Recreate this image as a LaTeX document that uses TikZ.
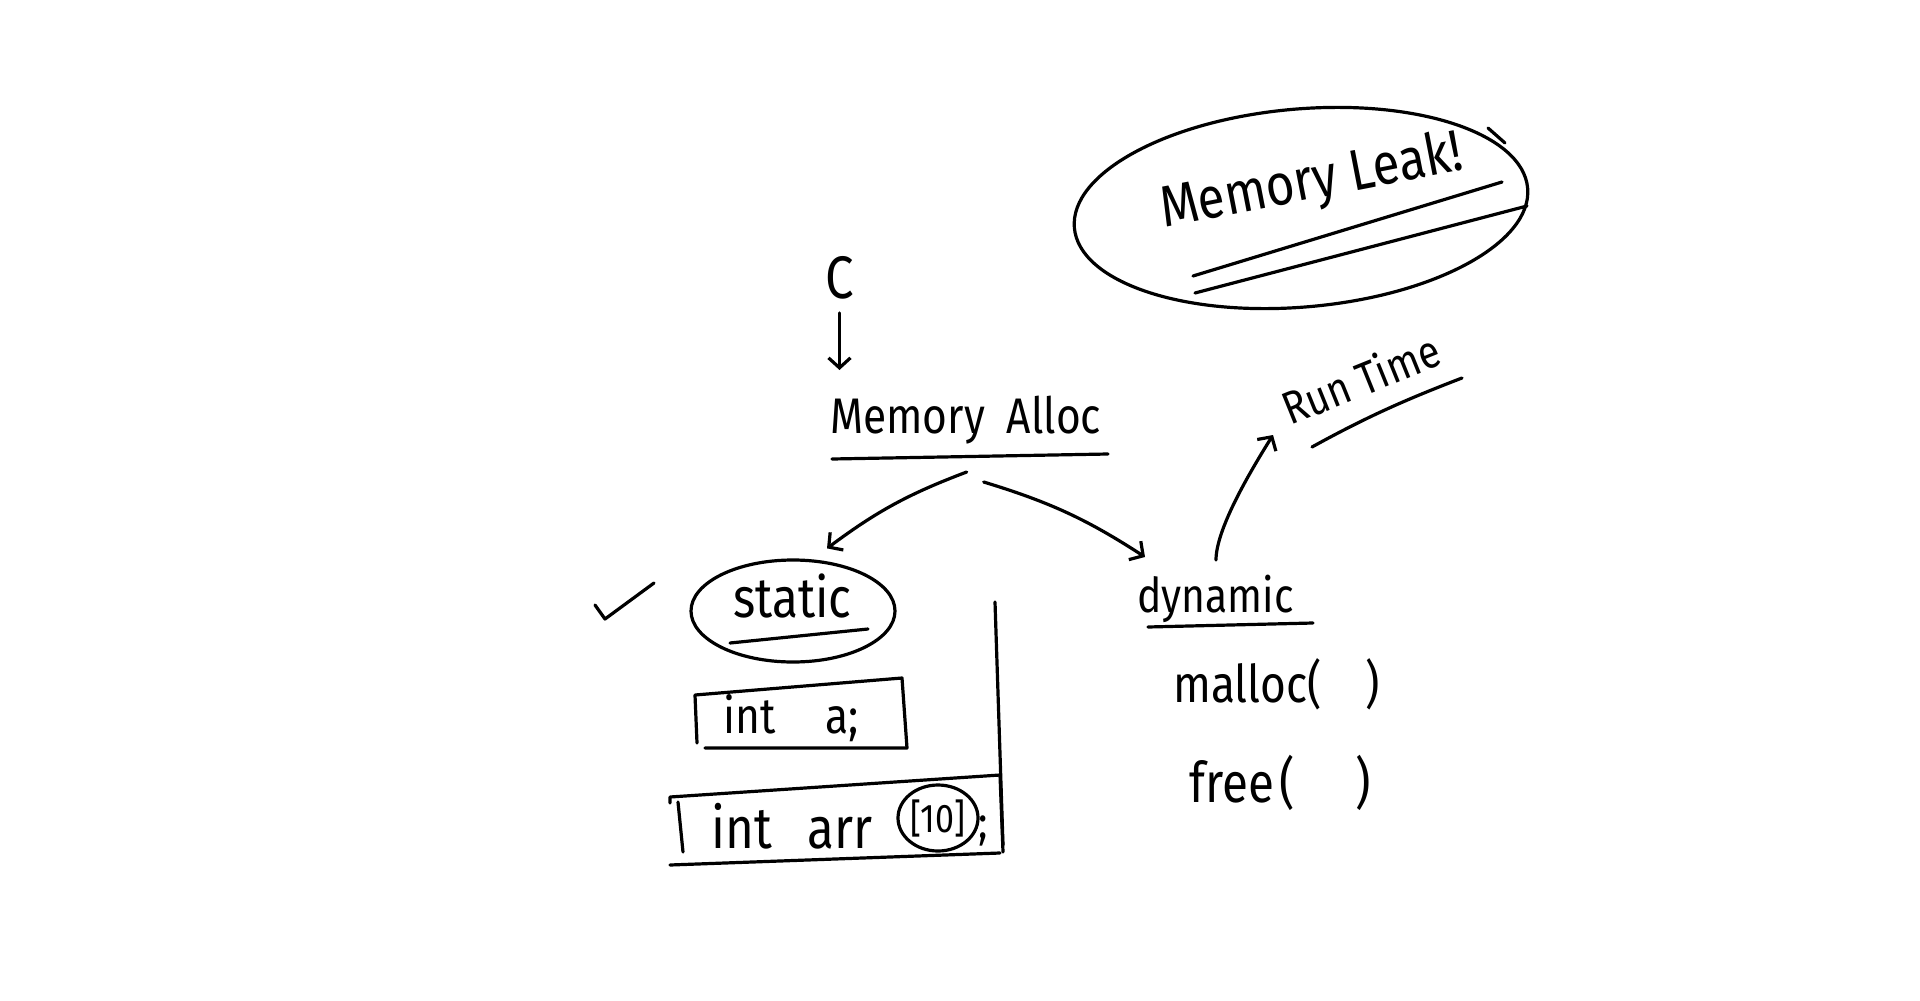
\documentclass[tikz,border=0pt]{standalone}
\usepackage{fontspec}
\setmainfont{Fira Sans}[FakeStretch=0.85]
\usetikzlibrary{arrows.meta,shapes.geometric,calc}
\begin{document}
\begin{tikzpicture}[x=1pt,y=-1pt,
  pen/.style={line width=3.2pt,line cap=round,line join=round},
  hand/.style={inner sep=0pt,anchor=base west,font=\fontsize{#1}{#1}\selectfont},
  barb/.style={pen,-{Straight Barb[length=10pt,width=22pt,line width=3.2pt]}},
  ring/.style={pen,draw,ellipse,inner sep=0pt}]
\useasboundingbox[fill=white] (0,0) rectangle (1920,1001);

% top of the tree
\node[hand=60] (C) at (825,298) {C};
\node[hand=50] (memalloc) at (830,433) {Memory\hspace{22pt}Alloc};
\draw[pen] (832,459) -- (1108,454);

% static branch
\node[ring,minimum width=204pt,minimum height=102pt] (staticring) at (793,611) {};
\node[hand=56] (static) at (733,617) {static};
\draw[pen] (730,643) -- (868,629);
\draw[pen] (595,605) -- (605,619) -- (654,583);

\node[hand=50] (inta) at (723,733) {int\hspace{50pt}a;};
\draw[pen] (697,743) -- (695,695) -- (902,678) -- (907,748) -- (705,748);

\node[hand=58] (arrtxt) at (711,848) {int\hspace{36pt}arr};
\node[ring,minimum width=80pt,minimum height=66pt,font=\fontsize{40}{40}\selectfont] (ten) at (938,818) {[10]};
\node[hand=46] (semi) at (978,838) {;};
\draw[pen] (670,803) -- (670,797) -- (1000,775) -- (1003,852);
\draw[pen] (678,802) -- (683,852);
\draw[pen] (670,865) -- (1000,853);
\draw[pen] (995,602) -- (1003,845);

% dynamic branch
\node[hand=48] (dynamic) at (1137,612) {dynamic};
\draw[pen] (1148,627) -- (1313,623);
\node[hand=52] (malloc) at (1173,702) {malloc(\hspace{44pt})};
\node[hand=56] (free) at (1189,802) {free\hspace{6pt}(\hspace{60pt})};

\node[hand=46,rotate=22] (runtime) at (1290,426) {Run Time};
\draw[pen] (1312,447) .. controls (1370,415) and (1410,398) .. (1462,378);

% note bubble
\node[ring,minimum width=455pt,minimum height=198pt,rotate=5] (leak) at (1301,208) {};
\node[hand=58,rotate=11] (leaktxt) at (1164,228) {Memory Leak!};
\draw[pen] (1193,276) -- (1502,182);
\draw[pen] (1195,293) -- (1527,206);
\draw[pen] (1488,128) -- (1505,143);

% connectors
\draw[barb] (C.south |- 0,313) -- (C.south |- 0,370);
\draw[barb] ($(memalloc.base)+(1,39)$) to[bend right=8] ($(staticring.north)+(34,-10)$);
\draw[barb] ($(memalloc.base)+(18,49)$) to[bend left=8] ($(dynamic.base west)+(8,-55)$);
\draw[barb] ($(dynamic.base west)+(79,-52)$) .. controls +(0,-30) and +(-25,40) .. ($(runtime.base west)+(-17,9)$);
\end{tikzpicture}
\end{document}
